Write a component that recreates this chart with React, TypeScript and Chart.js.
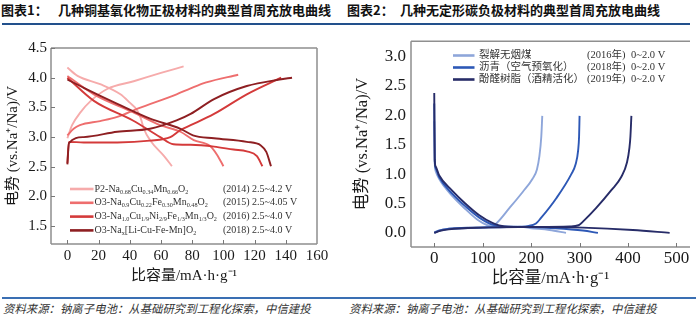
import React, { useEffect, useRef } from "react";
import { Chart, registerables } from "chart.js";
Chart.register(...registerables);

type Pt = [number, number];

// ---------- Left chart (copper-based oxide cathodes) ----------
const leftXTicks = [0, 20, 40, 60, 80, 100, 120, 140, 160];
const leftYTicks = [1.5, 2.0, 2.5, 3.0, 3.5, 4.0, 4.5];
const leftNames = [
  "P2-Na{0.68}Cu{0.34}Mn{0.66}O{2}",
  "O3-Na{0.9}Cu{0.22}Fe{0.30}Mn{0.48}O{2}",
  "O3-Na{1.0}Cu{1/9}Ni{2/9}Fe{1/3}Mn{1/3}O{2}",
  "O3-Na{x}[Li-Cu-Fe-Mn]O{2}",
];
const leftYears = ["(2014)", "(2015)", "(2016)", "(2018)"];
const leftRanges = ["2.5~4.2 V", "2.5~4.05 V", "2.5~4.0 V", "2.5~4.0 V"];
const leftColors = ["#f6abab", "#ee6e6e", "#d43a3a", "#8e1f22"];

const p2Charge: Pt[] = [[0, 2.98], [3, 3.2], [8.5, 3.42], [15, 3.61], [25.5, 3.81], [42.5, 3.94], [60, 4.08], [74.5, 4.19]];
const p2Discharge: Pt[] = [[0, 4.17], [6.5, 4.03], [21, 3.89], [34, 3.72], [40, 3.58], [44.5, 3.46], [47, 3.32], [49, 3.14], [53.5, 2.93], [62, 2.68], [67, 2.51]];
const o15Charge: Pt[] = [[0, 3.03], [4, 3.14], [8, 3.2], [21, 3.27], [32, 3.34], [45, 3.48], [70, 3.72], [79, 3.82], [89, 3.92], [109.5, 4.05]];
const o15Discharge: Pt[] = [[0, 4.03], [17, 3.72], [42, 3.42], [59.5, 3.2], [72.5, 3.09], [81, 2.95], [91.5, 2.85], [96, 2.7], [100, 2.51]];
const o16Charge: Pt[] = [[0, 2.56], [1, 2.92], [10.5, 2.91], [32, 2.91], [53, 2.94], [66, 3.0], [72.5, 3.12], [79, 3.2], [94, 3.39], [115, 3.72], [137, 4.0]];
const o16Discharge: Pt[] = [[0, 4.0], [17, 3.61], [42, 3.28], [59.5, 3.0], [68, 2.88], [79, 2.87], [94, 2.84], [106.5, 2.79], [115, 2.76], [121.5, 2.68], [125, 2.51]];
const o18Charge: Pt[] = [[0, 2.54], [1, 2.9], [10.5, 3.0], [32, 3.09], [53, 3.14], [70, 3.28], [79, 3.39], [94, 3.64], [115, 3.86], [136, 3.97], [144, 4.0]];
const o18Discharge: Pt[] = [[0, 3.97], [10.5, 3.83], [32, 3.56], [53, 3.31], [72.5, 3.14], [80.5, 3.03], [94, 2.98], [115, 2.92], [124, 2.86], [127.5, 2.75], [130.5, 2.51]];

// ---------- Right chart (hard carbon anodes) ----------
const rightXTicks = [0, 100, 200, 300, 400, 500];
const rightYTicks = [0, 0.5, 1.0, 1.5, 2.0, 2.5, 3.0];
const rightNames = ["裂解无烟煤", "沥青（空气预氧化）", "酚醛树脂（酒精活化）"];
const rightYears = ["(2016年)", "(2018年)", "(2019年)"];
const rightRanges = ["0~2.0 V", "0~2.0 V", "0~2.0 V"];
const rightColors = ["#8ea6da", "#2d58b6", "#272c68"];

const coalCharge: Pt[] = [[0, 0.01], [10, 0.04], [30, 0.07], [60, 0.08], [100, 0.09], [118, 0.11], [128, 0.16], [155, 0.42], [183, 0.7], [203, 0.92], [212, 1.08], [217, 1.3], [221, 1.64], [223, 1.99]];
const coalDischarge: Pt[] = [[0, 1.9], [1, 1.2], [3, 1.05], [10, 0.92], [38, 0.62], [65, 0.4], [90, 0.22], [110, 0.13], [135, 0.1], [169, 0.11], [200, 0.08], [238, 0.05], [272, 0.0]];
const pitchCharge: Pt[] = [[0, 0.0], [10, 0.04], [30, 0.07], [80, 0.09], [150, 0.1], [195, 0.12], [210, 0.16], [220, 0.25], [252, 0.59], [283, 1.0], [292, 1.17], [297, 1.4], [299, 1.64], [300, 1.99]];
const pitchDischarge: Pt[] = [[0, 2.2], [1, 1.22], [3, 1.1], [10, 0.95], [38, 0.66], [66, 0.44], [93, 0.26], [120, 0.14], [145, 0.11], [200, 0.1], [250, 0.08], [307, 0.04], [338, 0.0]];
const resinCharge: Pt[] = [[0, 0.0], [10, 0.03], [30, 0.06], [100, 0.09], [200, 0.1], [280, 0.11], [298, 0.13], [308, 0.2], [334, 0.42], [366, 0.73], [386, 0.95], [398, 1.2], [403, 1.45], [405, 1.64], [407, 1.99]];
const resinDischarge: Pt[] = [[0, 2.38], [1, 1.25], [3, 1.13], [10, 0.98], [37, 0.72], [64, 0.5], [93, 0.3], [120, 0.17], [145, 0.11], [200, 0.1], [307, 0.09], [410, 0.05], [486, 0.0]];

const SERIF = "'Liberation Serif', 'Noto Sans CJK SC', serif";
const CJK = "'Noto Sans CJK SC', sans-serif";

const toXY = (a: Pt[]) => a.map(([x, y]) => ({ x, y }));

function drawRich(ctx: CanvasRenderingContext2D, text: string, x: number, y: number, size: number, family: string) {
  const parts = text.split(/(\{[^}]*\})/);
  let cx = x;
  for (const p of parts) {
    if (!p) continue;
    if (p.startsWith("{")) {
      const s = p.slice(1, -1);
      ctx.font = `${size * 0.62}px ${family}`;
      ctx.fillText(s, cx, y + size * 0.3);
      cx += ctx.measureText(s).width;
    } else {
      ctx.font = `${size}px ${family}`;
      ctx.fillText(p, cx, y);
      cx += ctx.measureText(p).width;
    }
  }
}

function framePlugin(sides: { top: boolean; right: boolean; bottom: boolean; left: boolean }, yTickMarks: boolean) {
  return {
    id: "frame",
    afterDatasetsDraw(chart: any) {
      const { ctx, chartArea: a, scales } = chart;
      ctx.save();
      ctx.strokeStyle = "#8f8f8f";
      ctx.lineWidth = 1.5;
      ctx.beginPath();
      if (sides.top) { ctx.moveTo(a.left, a.top); ctx.lineTo(a.right, a.top); }
      if (sides.right) { ctx.moveTo(a.right, a.top); ctx.lineTo(a.right, a.bottom); }
      if (sides.bottom) { ctx.moveTo(a.left, a.bottom); ctx.lineTo(a.right, a.bottom); }
      if (sides.left) { ctx.moveTo(a.left, a.top); ctx.lineTo(a.left, a.bottom); }
      ctx.stroke();
      ctx.strokeStyle = "#777";
      ctx.lineWidth = 1;
      ctx.beginPath();
      for (const t of scales.x.ticks) {
        const px = Math.round(scales.x.getPixelForValue(t.value)) + 0.5;
        if (px < a.left || px > a.right) continue;
        ctx.moveTo(px, a.bottom);
        ctx.lineTo(px, a.bottom - 4);
      }
      if (yTickMarks) {
        for (const t of scales.y.ticks) {
          const py = Math.round(scales.y.getPixelForValue(t.value)) + 0.5;
          if (py < a.top || py > a.bottom) continue;
          ctx.moveTo(a.left, py);
          ctx.lineTo(a.left + 4, py);
        }
      }
      ctx.stroke();
      ctx.restore();
    },
  };
}

function legendPlugin(
  names: string[], years: string[], ranges: string[], colors: string[],
  opt: { anchor: "top" | "bottom"; dy: number; gap: number; l0: number; l1: number; tx: number; yx: number; rx: number; size: number; family: string }
) {
  return {
    id: "customLegend",
    afterDraw(chart: any) {
      const { ctx, chartArea: a } = chart;
      ctx.save();
      ctx.textBaseline = "middle";
      ctx.textAlign = "left";
      names.forEach((n, i) => {
        const y = (opt.anchor === "top" ? a.top : a.bottom) + opt.dy + i * opt.gap;
        ctx.strokeStyle = colors[i];
        ctx.lineWidth = 2.6;
        ctx.beginPath();
        ctx.moveTo(a.left + opt.l0, y);
        ctx.lineTo(a.left + opt.l1, y);
        ctx.stroke();
        ctx.fillStyle = "#333";
        drawRich(ctx, n, a.left + opt.tx, y, opt.size, opt.family);
        ctx.font = `${opt.size}px ${opt.family}`;
        ctx.fillText(years[i], a.left + opt.yx, y);
        ctx.fillText(ranges[i], a.left + opt.rx, y);
      });
      ctx.restore();
    },
  };
}

function makeAxes(p: {
  xMin: number; xMax: number; yMin: number; yMax: number; xTicks: number[]; yTicks: number[];
  tickSize: number; titleSize: number; yWidth: number; xHeight: number; xPad: number; yPad: number;
  xTitlePad: number; yTitlePad: number;
}) {
  const tickFont = { family: SERIF, size: p.tickSize };
  const titleFont = { family: SERIF, size: p.titleSize };
  return {
    x: {
      type: "linear",
      min: p.xMin,
      max: p.xMax,
      grid: { display: false, drawTicks: false },
      border: { display: false },
      afterBuildTicks: (s: any) => { s.ticks = p.xTicks.map((v) => ({ value: v })); },
      afterFit: (s: any) => { s.height = p.xHeight; },
      ticks: { padding: p.xPad, color: "#1a1a1a", font: tickFont, maxRotation: 0, autoSkip: false, callback: (v: any) => String(v) },
      title: { display: true, text: "比容量/mA·h·g⁻¹", color: "#1a1a1a", font: titleFont, padding: { top: 0, bottom: p.xTitlePad } },
    },
    y: {
      type: "linear",
      min: p.yMin,
      max: p.yMax,
      grid: { display: false, drawTicks: false },
      border: { display: false },
      afterBuildTicks: (s: any) => { s.ticks = p.yTicks.map((v) => ({ value: v })); },
      afterFit: (s: any) => { s.width = p.yWidth; },
      ticks: { padding: p.yPad, color: "#1a1a1a", font: tickFont, autoSkip: false, callback: (v: any) => Number(v).toFixed(1) },
      title: { display: true, text: "电势 (vs.Na⁺/Na)/V", color: "#1a1a1a", font: titleFont, padding: { top: p.yTitlePad, bottom: 0 } },
    },
  };
}

function lineDs(data: Pt[], color: string, width: number) {
  return {
    data: toXY(data),
    borderColor: color,
    backgroundColor: color,
    borderWidth: width,
    pointRadius: 0,
    fill: false,
    cubicInterpolationMode: "monotone",
  };
}

function leftConfig(): any {
  const datasets = [
    lineDs(o18Charge, leftColors[3], 1.9),
    lineDs(o18Discharge, leftColors[3], 1.9),
    lineDs(o16Charge, leftColors[2], 1.9),
    lineDs(o16Discharge, leftColors[2], 1.9),
    lineDs(o15Charge, leftColors[1], 1.9),
    lineDs(o15Discharge, leftColors[1], 1.9),
    lineDs(p2Charge, leftColors[0], 1.9),
    lineDs(p2Discharge, leftColors[0], 1.9),
  ];
  return {
    type: "line",
    data: { datasets },
    options: {
      animation: false,
      responsive: false,
      layout: { padding: { top: 22, right: 28, left: 0, bottom: 0 } },
      plugins: { legend: { display: false }, tooltip: { enabled: false } },
      scales: makeAxes({
        xMin: -10.5, xMax: 160, yMin: 1.2, yMax: 4.5, xTicks: leftXTicks, yTicks: leftYTicks,
        tickSize: 15, titleSize: 15, yWidth: 51, xHeight: 46, xPad: 3, yPad: 4, xTitlePad: 5, yTitlePad: 4,
      }),
    },
    plugins: [
      framePlugin({ top: true, right: true, bottom: true, left: true }, true),
      legendPlugin(leftNames, leftYears, leftRanges, leftColors, {
        anchor: "bottom", dy: -55, gap: 13.8, l0: 19, l1: 42.5, tx: 43.5, yx: 172, rx: 201, size: 10, family: SERIF,
      }),
    ],
  };
}

function rightConfig(): any {
  const datasets = [
    lineDs(resinCharge, rightColors[2], 1.9),
    lineDs(resinDischarge, rightColors[2], 1.9),
    lineDs(pitchCharge, rightColors[1], 1.9),
    lineDs(pitchDischarge, rightColors[1], 1.9),
    lineDs(coalCharge, rightColors[0], 1.9),
    lineDs(coalDischarge, rightColors[0], 1.9),
  ];
  return {
    type: "line",
    data: { datasets },
    options: {
      animation: false,
      responsive: false,
      layout: { padding: { top: 9, right: 10, left: 0, bottom: 0 } },
      plugins: { legend: { display: false }, tooltip: { enabled: false } },
      scales: makeAxes({
        xMin: -48, xMax: 528, yMin: -0.24, yMax: 3.26, xTicks: rightXTicks, yTicks: rightYTicks,
        tickSize: 17, titleSize: 16.5, yWidth: 61, xHeight: 43, xPad: 1, yPad: 5, xTitlePad: 1, yTitlePad: 3,
      }),
    },
    plugins: [
      framePlugin({ top: true, right: false, bottom: true, left: true }, false),
      legendPlugin(rightNames, rightYears, rightRanges, rightColors, {
        anchor: "top", dy: 14.3, gap: 12, l0: 42, l1: 63.5, tx: 68, yx: 176, rx: 220, size: 10.5, family: SERIF,
      }),
    ],
  };
}

function ChartCanvas({ make, left, top, width, height }: { make: () => any; left: number; top: number; width: number; height: number }) {
  const ref = useRef<HTMLCanvasElement>(null);
  useEffect(() => {
    const chart = new Chart(ref.current as HTMLCanvasElement, make());
    return () => chart.destroy();
  }, []);
  return (
    <div style={{ position: "absolute", left, top, width, height }}>
      <canvas ref={ref} width={width} height={height} style={{ width, height, display: "block" }} />
    </div>
  );
}

const titleStyle: React.CSSProperties = {
  position: "absolute",
  fontFamily: CJK,
  fontWeight: 700,
  fontSize: 13,
  lineHeight: "20px",
  color: "#111",
  whiteSpace: "nowrap",
};
const sourceStyle: React.CSSProperties = {
  position: "absolute",
  fontFamily: CJK,
  fontStyle: "italic",
  fontSize: 11.4,
  lineHeight: "16px",
  color: "#333",
  whiteSpace: "nowrap",
};

export default function App() {
  return (
    <div style={{ position: "absolute", left: 0, top: 0, width: 700, height: 324, background: "#fff", overflow: "hidden" }}>
      <div style={{ ...titleStyle, left: 1, top: 0 }}>图表1：</div>
      <div style={{ ...titleStyle, left: 58, top: 0 }}>几种铜基氧化物正极材料的典型首周充放电曲线</div>
      <div style={{ ...titleStyle, left: 347, top: 0 }}>图表2：</div>
      <div style={{ ...titleStyle, left: 400, top: 0 }}>几种无定形碳负极材料的典型首周充放电曲线</div>
      <div style={{ position: "absolute", left: 2, top: 23, width: 688, height: 2, background: "#22508c" }} />

      <ChartCanvas make={leftConfig} left={0} top={26} width={345} height={264} />
      <ChartCanvas make={rightConfig} left={350} top={26} width={350} height={264} />

      <div style={{ position: "absolute", left: 2, top: 297, width: 694, height: 2, background: "#3a6fb3" }} />
      <div style={{ ...sourceStyle, left: 3, top: 300 }}>资料来源：钠离子电池：从基础研究到工程化探索，中信建投</div>
      <div style={{ ...sourceStyle, left: 349, top: 300 }}>资料来源：钠离子电池：从基础研究到工程化探索，中信建投</div>
    </div>
  );
}
